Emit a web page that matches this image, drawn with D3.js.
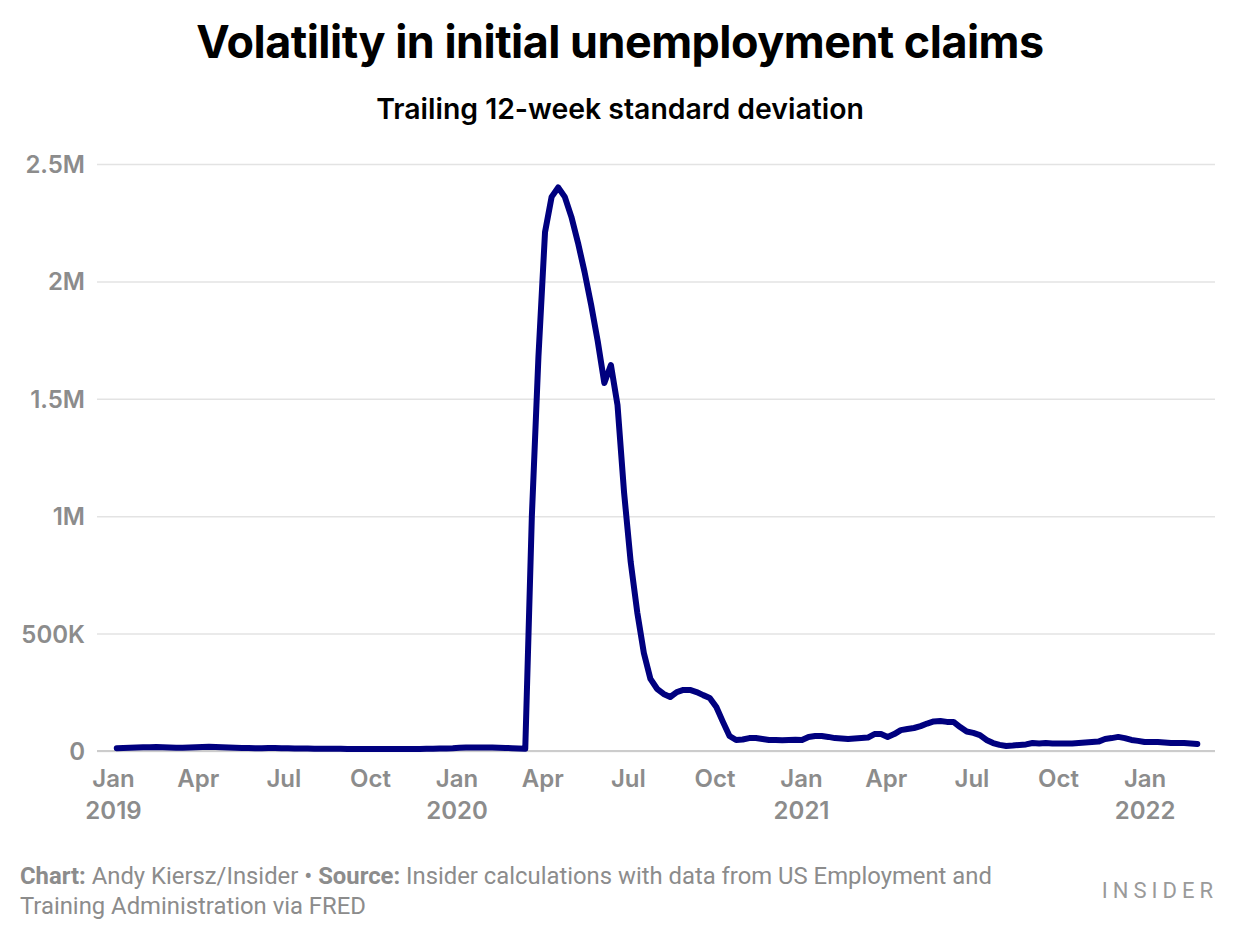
<!DOCTYPE html>
<html><head><meta charset="utf-8">
<script src="https://cdn.jsdelivr.net/npm/d3@7"></script>
<style>
body{margin:0;background:#fff;}
svg{display:block;font-family:Inter,"Noto Sans",sans-serif;}
</style>
</head><body>
<svg id="chart" width="1240" height="940"></svg>
<script>
// ---- Data (thousands), weekly, week ending Saturday ----
const firstWeek = "2019-01-05";
const lastWeek = "2022-02-26";
const values2019 = [12,13,14,15, 16,16,17,16, 15,14,14,15,16, 17,18,17,16, 15,14,13,13, 12,12,13,13,12,
  12,11,11,11, 10,10,10,10,10, 9,9,9,9, 8,8,8,8, 8,9,9,9,10, 10,11,11,12].slice(0,52);
const values2020 = [14,15,15,15, 15,15,14,13,12, 11,10,1000,1680, 2210,2360,2400,2360,
  2275,2165,2040,1900,1745, 1567,1644,1474,1100, 805,590,417,307,
  265,243,230,251,260, 260,251,238,226, 187,124,64,47,49, 55,55,51,47, 47,46,47,48];
const values2021 = [47,60,64,64,60, 55,53,51,53, 55,57,72,72, 60,72,89,94,
  98,106,117,126,128, 124,124,102,83, 77,68,47,34,26, 21,23,26,28, 34,32,34,32,
  32,32,32,34,36, 38,40,51,55, 60,55,47,43];
const values2022 = [38,38,38,36,34,34,34,32,30];

const yTicks = [0, 500000, 1000000, 1500000, 2000000, 2500000];
const yTickLabels = ["0", "500K", "1M", "1.5M", "2M", "2.5M"];
const xTicks = ["2019-01-01","2019-04-01","2019-07-01","2019-10-01","2020-01-01","2020-04-01","2020-07-01","2020-10-01",
  "2021-01-01","2021-04-01","2021-07-01","2021-10-01","2022-01-01"];
const xTickLabels = ["Jan","Apr","Jul","Oct","Jan","Apr","Jul","Oct","Jan","Apr","Jul","Oct","Jan"];
const xTickYears = ["2019","","","","2020","","","","2021","","","","2022"];

const title = "Volatility in initial unemployment claims";
const subtitle = "Trailing 12-week standard deviation";
const footer1a = "Chart:", footer1b = " Andy Kiersz/Insider • ", footer1c = "Source:",
      footer1d = " Insider calculations with data from US Employment and";
const footer2 = "Training Administration via FRED";

// ---- Build ----
const parse = d3.timeParse("%Y-%m-%d");
const weeks = d3.timeSaturday.range(parse(firstWeek), d3.timeDay.offset(parse(lastWeek), 1));
const vals = values2019.concat(values2020, values2021, values2022);
const data = vals.map((v, i) => ({date: weeks[i], value: v * 1000}));

const svg = d3.select("#chart");
const gridLeft = 97, gridRight = 1215;
const x = d3.scaleTime().domain([parse("2019-01-01"), parse("2022-01-01")]).range([113, 1144.6]);
const y = d3.scaleLinear().domain([0, 2500000]).range([751, 164]);

const grey = "#8c8c8c";

// Y axis with gridlines
const yAxis = svg.append("g").attr("transform", `translate(${gridLeft},0)`)
  .call(d3.axisLeft(y).tickValues(yTicks).tickSize(-(gridRight - gridLeft)).tickPadding(12)
    .tickFormat((d, i) => yTickLabels[i]));
yAxis.select(".domain").remove();
yAxis.selectAll(".tick line").attr("stroke", "#e3e3e3").attr("stroke-width", 1.5);
yAxis.selectAll(".tick text").attr("fill", grey).attr("font-size", 24).attr("font-weight", 600)
  .attr("font-family", "Inter, sans-serif").attr("dy", "0.35em");

// baseline
svg.append("line").attr("x1", gridLeft).attr("x2", gridRight).attr("y1", y(0)).attr("y2", y(0))
  .attr("stroke", "#cccccc").attr("stroke-width", 2);

// X axis
const xAxis = svg.append("g").attr("transform", `translate(0,${y(0)})`)
  .call(d3.axisBottom(x).tickValues(xTicks.map(parse)).tickSize(0).tickPadding(0)
    .tickFormat((d, i) => xTickLabels[i]));
xAxis.select(".domain").remove();
xAxis.selectAll(".tick text").each(function(d, i) {
  const t = d3.select(this);
  t.attr("fill", grey).attr("font-size", 24).attr("font-weight", 600)
   .attr("font-family", "Inter, sans-serif").attr("y", 36).attr("dy", null).text(null);
  t.append("tspan").attr("x", 0).attr("y", 36).text(xTickLabels[i]);
  if (xTickYears[i]) t.append("tspan").attr("x", 0).attr("y", 68).text(xTickYears[i]);
});

// Line
const line = d3.line().x(d => x(d.date)).y(d => y(d.value));
svg.append("path").datum(data).attr("d", line).attr("fill", "none")
  .attr("stroke", "#00007f").attr("stroke-width", 6)
  .attr("stroke-linejoin", "round").attr("stroke-linecap", "round");

// Titles
function fit(sel, w) {
  const cur = sel.node().getComputedTextLength();
  const fs = parseFloat(sel.attr("font-size"));
  sel.attr("font-size", fs * w / cur);
  return fs * w / cur;
}
const t1 = svg.append("text").attr("x", 620).attr("y", 58).attr("text-anchor", "middle")
  .attr("font-size", 42).attr("font-weight", 700).attr("fill", "#000").attr("letter-spacing", -0.5).text(title);
fit(t1, 846);
const t2 = svg.append("text").attr("x", 620).attr("y", 119).attr("text-anchor", "middle")
  .attr("font-size", 26).attr("font-weight", 600).attr("fill", "#000").text(subtitle);
fit(t2, 488);

// Footer
const f1 = svg.append("text").attr("x", 20).attr("y", 884).attr("font-size", 21).attr("fill", grey)
  .attr("font-family", "Roboto, sans-serif");
f1.append("tspan").attr("font-weight", 700).text(footer1a);
f1.append("tspan").text(footer1b);
f1.append("tspan").attr("font-weight", 700).text(footer1c);
f1.append("tspan").text(footer1d);
const fs = fit(f1, 972);
svg.append("text").attr("x", 20).attr("y", 914).attr("font-size", fs).attr("fill", grey)
  .attr("font-family", "Roboto, sans-serif").text(footer2);

svg.append("text").attr("x", 1218).attr("y", 898).attr("text-anchor", "end")
  .attr("font-size", 22).attr("letter-spacing", 5).attr("fill", "#9a9a9a")
  .attr("font-family", "Roboto, sans-serif").text("INSIDER");
</script>
</body></html>
